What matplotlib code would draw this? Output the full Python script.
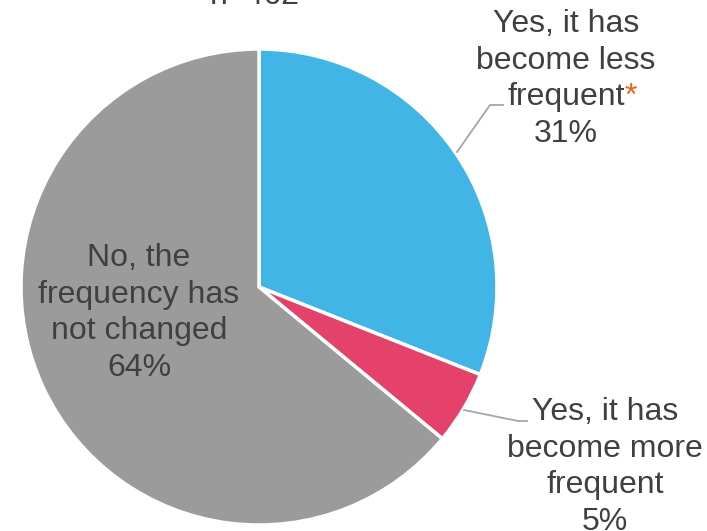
import matplotlib
matplotlib.use("Agg")
from matplotlib import pyplot as plt

plt.rcParams['font.family'] = ['Liberation Sans', 'DejaVu Sans']

labels = ["Yes, it has\nbecome less\nfrequent", "Yes, it has\nbecome more\nfrequent",
          "No, the\nfrequency has\nnot changed"]
values = [31, 5, 64]
colors = ["#41B6E6", "#E4416B", "#9B9B9B"]
n_total = 462

W, H = 707, 531
txt_color = "#404040"
line_color = "#A6A6A6"
fs = 23
step = 36.7  # pixel spacing between label lines

fig = plt.figure(figsize=(W / 100, H / 100), dpi=100)
ax = fig.add_axes([0, 0, 1, 1])

cx, cy, r = 259, H - 287, 238
ax.pie(values, colors=colors, startangle=90, counterclock=False, center=(cx, cy),
       radius=r, frame=True, wedgeprops=dict(edgecolor='white', linewidth=2.5))
ax.set_xlim(0, W)
ax.set_ylim(0, H)
ax.set_aspect('equal')
ax.axis('off')


def put_label(x, y_top, text, pct, star=False):
    lines = text.split("\n") + [f"{pct}%"]
    for i, ln in enumerate(lines):
        t = ax.text(x, H - (y_top + i * step), ln, ha='center', va='center',
                    fontsize=fs, color=txt_color)
        if star and i == 2:
            ax.annotate("*", xy=(1, 1), xycoords=t, ha='left', va='top',
                        fontsize=fs, color="#E8601C")


# title (mostly cropped off at the top, as in the original)
ax.text(255, H + 4, f"n={n_total}", ha='center', va='center', fontsize=fs, color=txt_color)

# blue slice label + leader
ax.plot([457, 490, 503], [H - 152, H - 105, H - 105], color=line_color, lw=1.3)
put_label(566, 24, labels[0], values[0], star=True)

# pink slice label + leader
ax.plot([464, 518, 527], [H - 410, H - 421, H - 421], color=line_color, lw=1.3)
put_label(605, 412, labels[1], values[1])

# grey slice label inside
put_label(139, 258, labels[2], values[2])

fig.savefig("out.png", dpi=100)
